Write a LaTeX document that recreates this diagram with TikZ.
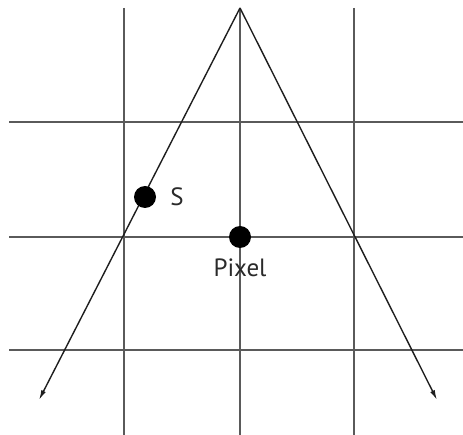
\documentclass[tikz,border=0pt]{standalone}
\usepackage{fontspec}
\setsansfont{PT Sans}
\usetikzlibrary{arrows.meta,positioning,calc}
\definecolor{ink}{HTML}{1E1E1E}
\definecolor{gridink}{HTML}{5A5A5A}
\definecolor{labelink}{HTML}{2A2A2A}

\begin{document}
\begin{tikzpicture}[
  x=1pt,y=-1pt,font=\sffamily,
  gridline/.style={draw=gridink,line width=2pt},
  ray/.style={draw=ink,line width=1.4pt,-{Latex[length=10pt,width=5pt]}},
  sample/.style={circle,fill=black,inner sep=0pt,minimum size=22pt},
  lbl/.style={font=\sffamily\fontsize{25}{28}\selectfont,text=labelink,inner sep=1pt}
]
\useasboundingbox (0,0) rectangle (463,435);

% pixel grid
\foreach \gx in {124,240,354}{\draw[gridline] (\gx,8) -- (\gx,435);}
\foreach \gy in {122,237,350}{\draw[gridline] (9,\gy) -- (463,\gy);}

% cone of the sample
\coordinate (apex) at (240,8);
\coordinate (lend) at (39,400);
\coordinate (rend) at (437,400);
\draw[ray] (apex) -- (lend);
\draw[ray] (apex) -- (rend);

% samples and labels
\node[sample] (s) at (145,197) {};
\node[sample] (pixel) at (240,237) {};
\node[lbl,right=13pt of s] (slbl) {S};
\node[lbl,below=9pt of pixel] (pixlbl) {Pixel};
\end{tikzpicture}
\end{document}
